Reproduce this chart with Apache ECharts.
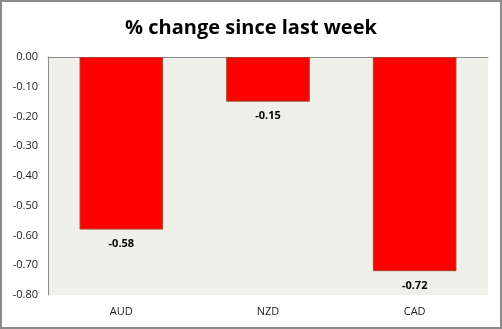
<!DOCTYPE html>
<html><head><meta charset="utf-8">
<script src="https://cdn.jsdelivr.net/npm/echarts@6/dist/echarts.min.js"></script>
<style>html,body{margin:0;padding:0;background:#fff}#c{width:502px;height:329px;box-sizing:border-box;border:2px solid #8c8c8c}</style>
</head><body><div id="c"></div>
<script>
const categories = ['AUD', 'NZD', 'CAD'];
const values = [-0.58, -0.15, -0.72];
const yTicks = { min: -0.8, max: 0, interval: 0.1 };
const chart = echarts.init(document.getElementById('c'));
chart.setOption({
  animation: false,
  title: { text: '% change since last week', left: 'center', top: 11,
    textStyle: { fontFamily: 'Open Sans', fontWeight: 'bold', fontSize: 20, color: '#000' } },
  grid: { left: 46, right: 12, top: 55, bottom: 32, show: true, backgroundColor: '#eff0e9', borderWidth: 0 },
  xAxis: [{
    type: 'category', data: categories, position: 'bottom',
    axisLine: { show: false, onZero: false }, axisTick: { show: false },
    axisLabel: { fontFamily: 'Open Sans', fontSize: 11, color: '#222', margin: 11 }
  }, {
    type: 'category', data: categories, position: 'top',
    axisLine: { show: true, lineStyle: { color: '#8c8c8c', width: 1 } }, axisTick: { show: false },
    axisLabel: { show: false }
  }],
  yAxis: {
    type: 'value', min: yTicks.min, max: yTicks.max, interval: yTicks.interval,
    axisLine: { show: true, lineStyle: { color: '#8c8c8c' } }, axisTick: { show: false },
    splitLine: { show: false },
    axisLabel: { fontFamily: 'Open Sans', fontSize: 11, color: '#222', margin: 10,
      formatter: v => v.toFixed(2) }
  },
  series: [{
    type: 'bar', data: values, barWidth: '57%',
    itemStyle: { color: '#ff0000', borderColor: '#a0482a', borderWidth: 1 },
    label: { show: true, position: 'bottom', distance: 9, fontFamily: 'Open Sans', fontWeight: 'bold', fontSize: 11, color: '#000',
      formatter: p => p.value.toFixed(2) }
  }]
});
</script></body></html>
